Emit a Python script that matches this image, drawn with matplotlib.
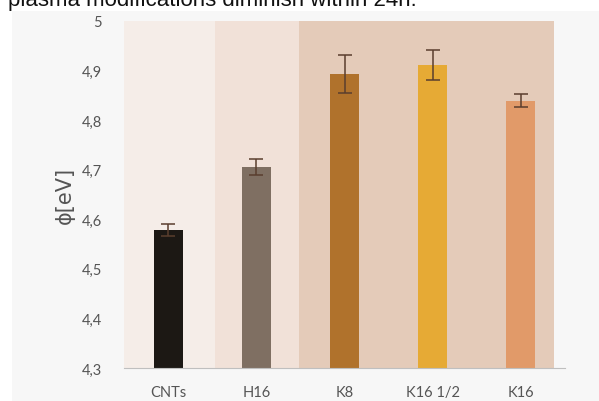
import matplotlib.pyplot as plt
from matplotlib.patches import Rectangle

# Work function per sample, with standard deviation
samples = ['CNTs', 'H16', 'K8', 'K16 1/2', 'K16']
phi = [4.579, 4.705, 4.893, 4.911, 4.839]
phi_err = [0.012, 0.016, 0.038, 0.030, 0.013]
bar_colors = ['#1c1814', '#7f6f62', '#b0722c', '#e6aa35', '#e19a69']

# Shaded groups behind the bars: (start, end, colour) in category units
groups = [(-0.5, 0.53, '#f5ede8'), (0.53, 1.48, '#f1e1d8'), (1.48, 4.375, '#e4cbb9')]

yticks = [4.3, 4.4, 4.5, 4.6, 4.7, 4.8, 4.9, 5.0]
ytick_labels = ['4,3', '4,4', '4,5', '4,6', '4,7', '4,8', '4,9', '5']

fig = plt.figure(figsize=(5.99, 4.02), dpi=100, facecolor='white')
fig.patches.append(Rectangle((12 / 599, 0), 1, (402 - 12) / 402,
                             transform=fig.transFigure, facecolor='#f7f7f7',
                             edgecolor='none', zorder=-10))
fig.text(8 / 599, (402 - 6) / 402, 'plasma modifications diminish within 24h.',
         fontsize=16, family='Liberation Sans', color='#111111', va='baseline')

ax = fig.add_axes([124 / 599, 33 / 402, 441 / 599, 347 / 402])
ax.set_facecolor('none')

for x0, x1, c in groups:
    ax.axvspan(x0, x1, ymin=0, ymax=1, color=c, lw=0, zorder=0)

x = range(len(samples))
ax.bar(x, phi, width=0.33, color=bar_colors, zorder=2,
       yerr=phi_err, error_kw=dict(ecolor='#5a3e2e', elinewidth=1.1, capsize=5, capthick=1.1))

ax.set_xlim(-0.5, 4.5)
ax.set_ylim(4.3, 5.0)
ax.set_yticks(yticks)
ax.set_yticklabels(ytick_labels, family=['Lato', 'DejaVu Sans'])
ax.set_xticks(list(x))
ax.set_xticklabels(samples, family=['Lato', 'DejaVu Sans'])
ax.tick_params(length=0, labelsize=10.5, labelcolor='#555555', pad=12)
ax.tick_params(axis='y', pad=16)
for s in ['top', 'right', 'left']:
    ax.spines[s].set_visible(False)
ax.spines['bottom'].set_color('#bfbfbf')
ax.spines['bottom'].set_zorder(3)

ax.set_ylabel('ϕ[eV]', fontsize=15, color='#555555', labelpad=5)

fig.savefig('out.png', dpi=100, facecolor=fig.get_facecolor())
